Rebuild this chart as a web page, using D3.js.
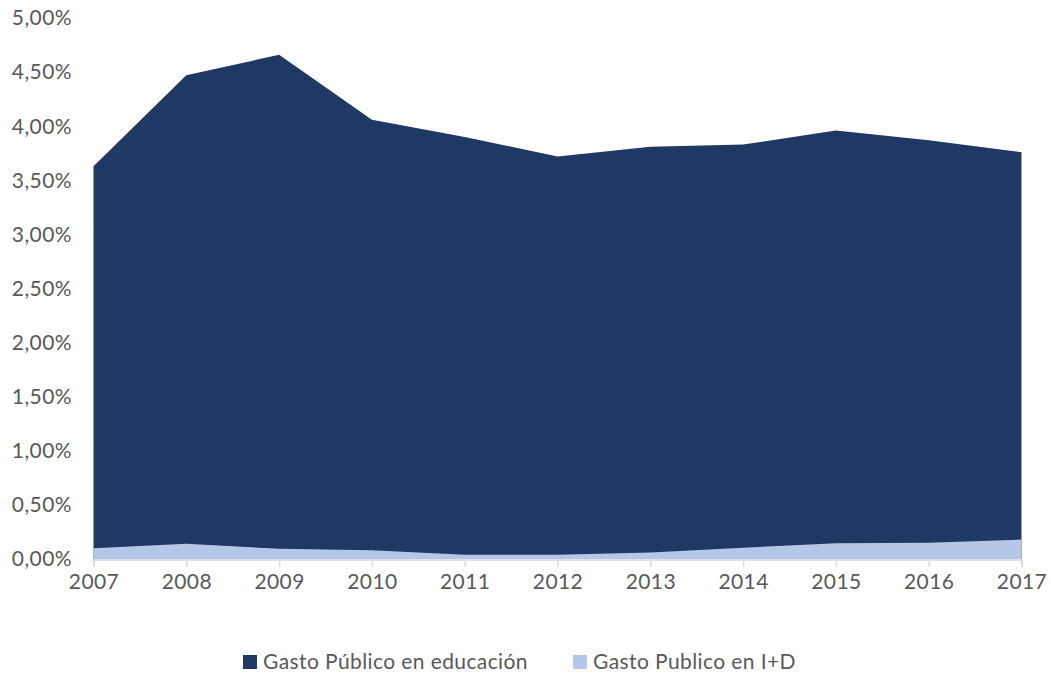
<!DOCTYPE html>
<html>
<head>
<meta charset="utf-8">
<script src="https://cdn.jsdelivr.net/npm/d3@7"></script>
<style>
  html, body { margin: 0; padding: 0; background: #ffffff; }
  svg { display: block; font-family: Lato, "Open Sans", sans-serif; }
</style>
</head>
<body>
<svg id="chart" width="1051" height="674"></svg>
<script>
// Years on the horizontal axis
const years = [2007, 2008, 2009, 2010, 2011, 2012, 2013, 2014, 2015, 2016, 2017];
// Public spending as % of GDP
const educacion = [3.63, 4.47, 4.66, 4.06, 3.90, 3.72, 3.81, 3.83, 3.96, 3.87, 3.76];
const iMasD    = [0.10, 0.14, 0.095, 0.08, 0.04, 0.04, 0.06, 0.105, 0.145, 0.15, 0.18];
// Y-axis tick values
const yTicks = [0, 0.5, 1, 1.5, 2, 2.5, 3, 3.5, 4, 4.5, 5];
const seriesNames = ["Gasto Público en educación", "Gasto Publico en I+D"];
const colors = ["#203864", "#B4C7E7"];

const svg = d3.select("#chart");
const plotLeft = 93.5, plotRight = 1021.5, plotTop = 18, plotBottom = 559;
const fontSize = 21, letterSp = "0.4px", textColor = "#595959";

const x = d3.scalePoint().domain(years).range([plotLeft, plotRight]);
const y = d3.scaleLinear().domain([0, 5]).range([plotBottom, plotTop]);

const fmt = v => v.toFixed(2).replace(".", ",") + "%";

// Y-axis labels (no axis line or gridlines)
svg.append("g")
  .selectAll("text")
  .data(yTicks)
  .join("text")
  .attr("x", 72)
  .attr("y", d => y(d))
  .attr("dy", "0.35em")
  .attr("text-anchor", "end")
  .attr("font-size", fontSize)
  .attr("letter-spacing", letterSp)
  .attr("fill", textColor)
  .text(fmt);

// Areas: education drawn first, R&D drawn over it
const area = vals => d3.area()
  .x((d, i) => x(years[i]))
  .y0(y(0))
  .y1(d => y(d))(vals);

svg.append("path").attr("d", area(educacion)).attr("fill", colors[0]);
svg.append("path").attr("d", area(iMasD)).attr("fill", colors[1]);

// X axis
const xAxis = d3.axisBottom(x).tickSize(7).tickPadding(8);
const gx = svg.append("g")
  .attr("transform", `translate(0,${plotBottom + 0.5})`)
  .call(xAxis);
gx.select(".domain").attr("stroke", "#d9d9d9").attr("stroke-width", 1.5);
gx.selectAll(".tick line").attr("stroke", "#d9d9d9").attr("stroke-width", 1.5);
gx.selectAll(".tick text")
  .attr("font-size", fontSize)
  .attr("letter-spacing", letterSp)
  .attr("fill", textColor)
  .attr("font-family", 'Lato, "Open Sans", sans-serif');

// Legend
const legendItems = [
  { name: seriesNames[0], color: colors[0], x: 243 },
  { name: seriesNames[1], color: colors[1], x: 573 }
];
const lg = svg.append("g");
legendItems.forEach(it => {
  lg.append("rect")
    .attr("x", it.x).attr("y", 655)
    .attr("width", 14).attr("height", 14)
    .attr("fill", it.color);
  lg.append("text")
    .attr("x", it.x + 20).attr("y", 662)
    .attr("dy", "0.35em")
    .attr("font-size", fontSize)
    .attr("letter-spacing", letterSp)
    .attr("fill", textColor)
    .text(it.name);
});
</script>
</body>
</html>
